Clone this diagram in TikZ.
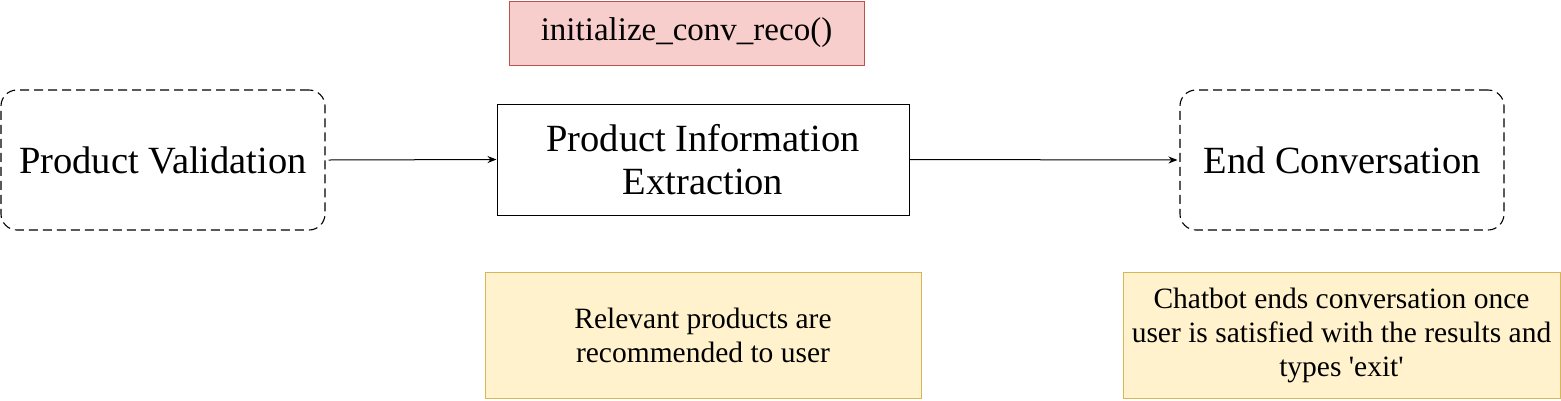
\documentclass[tikz,border=0pt]{standalone}
\usepackage{fontspec}
\setmainfont{Liberation Serif}
\usetikzlibrary{arrows.meta}
\definecolor{pinkfill}{HTML}{F8CECC}
\definecolor{pinkline}{HTML}{B85450}
\definecolor{notefill}{HTML}{FFF2CC}
\definecolor{noteline}{HTML}{D6B656}
\tikzset{
  x=1pt, y=-1pt,
  stagebox/.style={draw=black, line width=1.1pt, dash pattern=on 9pt off 5pt, rounded corners=16pt,
    inner sep=0pt, align=center, font=\fontsize{38.5}{43}\selectfont},
  mainbox/.style={draw=black, line width=1pt, inner sep=0pt, align=center, font=\fontsize{38.5}{43}\selectfont},
  funcbox/.style={draw=pinkline, fill=pinkfill, line width=1pt, inner sep=0pt, align=center, font=\fontsize{33}{38}\selectfont},
  notebox/.style={draw=noteline, fill=notefill, line width=1pt, inner sep=0pt, align=center, font=\fontsize{29.5}{34}\selectfont},
  flow/.style={draw=black, line width=1pt, -{Stealth[length=9pt,width=7pt]}}
}
\begin{document}
\begin{tikzpicture}
\useasboundingbox (0,0) rectangle (1561,400);
\node[stagebox, minimum width=324pt, minimum height=140pt] (pv) at (163,160) {Product Validation};
\node[mainbox, minimum width=412pt, minimum height=111pt] (pie) at (703,159.5) {Product Information\\Extraction};
\node[stagebox, minimum width=324pt, minimum height=140pt] (ec) at (1342,160) {End Conversation};
\node[funcbox, minimum width=355pt, minimum height=64pt] (init) at (686.5,33) {initialize\_conv\_reco()};
\node[notebox, minimum width=436pt, minimum height=126pt] (n1) at (703,335.5) {Relevant products are\\recommended to user};
\node[notebox, minimum width=437pt, minimum height=126pt] (n2) at (1341.5,335.5) {Chatbot ends conversation once\\user is satisfied with the results and\\types \textquotesingle exit\textquotesingle};
\draw[flow] (pv.east) ++(3,0) coordinate (pvs) (pvs) -- (pie.west);
\draw[flow] (pie.east) -- ([xshift=-2pt]ec.west);
\end{tikzpicture}
\end{document}
